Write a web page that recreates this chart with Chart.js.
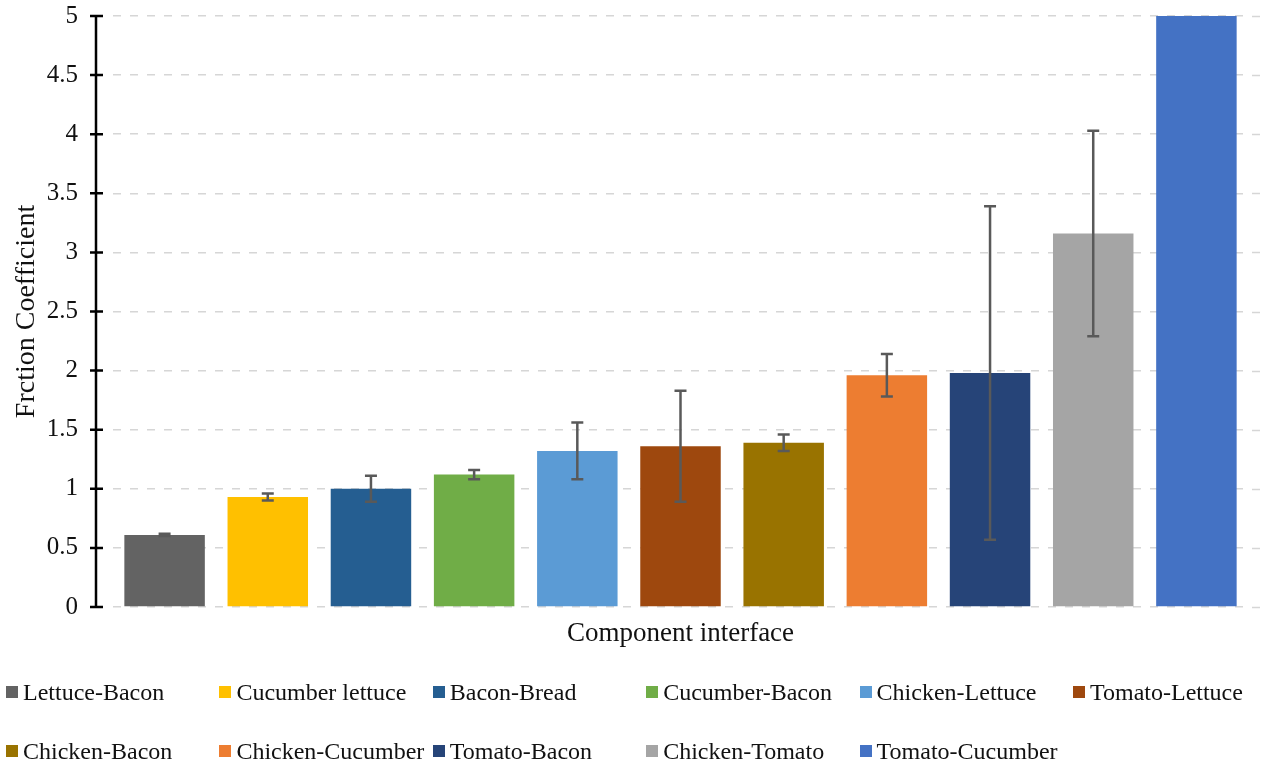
<!DOCTYPE html>
<html>
<head>
<meta charset="utf-8">
<script src="https://cdn.jsdelivr.net/npm/chart.js@4.4.1/dist/chart.umd.min.js"></script>
<style>
  body { margin: 0; background: #fff; }
  #wrap { position: relative; width: 1268px; height: 763px; }
  #legend { position: absolute; left: 0; top: 0; width: 1268px; height: 763px; pointer-events: none;
    font-family: "Liberation Serif", "Times New Roman", serif; font-size: 24px; color: #111; }
  .item { position: absolute; display: flex; align-items: center; white-space: nowrap; }
  .box { width: 12px; height: 12px; margin-right: 5px; }
</style>
</head>
<body>
<div id="wrap">
  <canvas id="chart" width="1268" height="763"></canvas>
  <div id="legend"></div>
</div>
<script>
// interface pairs, mean friction coefficient and error (+/-)
const interfaces = ['Lettuce-Bacon', 'Cucumber lettuce', 'Bacon-Bread', 'Cucumber-Bacon', 'Chicken-Lettuce',
  'Tomato-Lettuce', 'Chicken-Bacon', 'Chicken-Cucumber', 'Tomato-Bacon', 'Chicken-Tomato', 'Tomato-Cucumber'];
const means = [0.61, 0.93, 1.00, 1.12, 1.32, 1.36, 1.39, 1.96, 1.98, 3.16, 5.0];
const errors = [0.01, 0.03, 0.11, 0.04, 0.24, 0.47, 0.07, 0.18, 1.41, 0.87, 0];
const colors = ['#636363', '#FFC000', '#255E91', '#70AD47', '#5B9BD5',
  '#9E480E', '#997300', '#ED7D31', '#264478', '#A5A5A5', '#4472C4'];
const yTicks = [0, 0.5, 1, 1.5, 2, 2.5, 3, 3.5, 4, 4.5, 5];

const serif = '"Liberation Serif", "Times New Roman", serif';
const gridColor = '#d6d6d6';

const datasets = interfaces.map((name, i) => ({
  label: name,
  data: interfaces.map((_, j) => (j === i ? means[i] : null)),
  err: errors[i],
  backgroundColor: colors[i],
  borderWidth: 0
}));

const extras = {
  id: 'extras',
  // gridlines run a little past the last bar
  beforeDatasetsDraw(chart) {
    const ctx = chart.ctx;
    const y = chart.scales.y;
    const area = chart.chartArea;
    ctx.save();
    ctx.strokeStyle = gridColor;
    ctx.lineWidth = 1.5;
    ctx.setLineDash([8, 9]);
    ctx.beginPath();
    yTicks.forEach(t => {
      const py = Math.round(y.getPixelForValue(t)) + 0.5;
      ctx.moveTo(area.right + 4, py); ctx.lineTo(area.right + 18, py);
    });
    ctx.stroke();
    ctx.restore();
  },
  // error bars, then the y axis line a bit left of the plot with crossing ticks
  afterDatasetsDraw(chart) {
    const ctx = chart.ctx;
    const y = chart.scales.y;
    const area = chart.chartArea;

    ctx.save();
    ctx.strokeStyle = '#595959';
    ctx.lineWidth = 2.5;
    chart.data.datasets.forEach((ds, i) => {
      if (!ds.err) return;
      const bar = chart.getDatasetMeta(i).data[i];
      const v = ds.data[i];
      const top = y.getPixelForValue(v + ds.err);
      const bot = y.getPixelForValue(v - ds.err);
      ctx.beginPath();
      ctx.moveTo(bar.x, top); ctx.lineTo(bar.x, bot);
      ctx.moveTo(bar.x - 6, top); ctx.lineTo(bar.x + 6, top);
      ctx.moveTo(bar.x - 6, bot); ctx.lineTo(bar.x + 6, bot);
      ctx.stroke();
    });

    const ax = area.left - 17;
    ctx.strokeStyle = '#000';
    ctx.lineWidth = 2.5;
    ctx.beginPath();
    ctx.moveTo(ax, y.getPixelForValue(yTicks[yTicks.length - 1]));
    ctx.lineTo(ax, y.getPixelForValue(yTicks[0]));
    yTicks.forEach(t => {
      const py = y.getPixelForValue(t);
      ctx.moveTo(ax - 6, py); ctx.lineTo(ax + 7, py);
    });
    ctx.stroke();
    ctx.restore();
  }
};

new Chart(document.getElementById('chart'), {
  type: 'bar',
  data: { labels: interfaces, datasets: datasets },
  plugins: [extras],
  options: {
    responsive: false,
    animation: false,
    layout: { padding: { left: 10, right: 20, top: 1, bottom: 113 } },
    datasets: { bar: { grouped: false, categoryPercentage: 0.78, barPercentage: 1 } },
    plugins: { legend: { display: false }, tooltip: { enabled: false } },
    scales: {
      x: {
        afterFit: s => { s.height = 43; },
        grid: { display: false, drawTicks: false },
        border: { display: false },
        ticks: { display: false },
        title: { display: true, text: 'Component interface', color: '#111',
          font: { family: serif, size: 27 }, padding: { top: 11, bottom: 0 } }
      },
      y: {
        min: 0, max: 5,
        afterFit: s => { s.width = 103; },
        afterBuildTicks: axis => { axis.ticks = yTicks.map(v => ({ value: v })); },
        ticks: { color: '#111', font: { family: serif, size: 25 }, padding: 1,
          callback: v => String(v) },
        // invisible tick marks just push the labels away from the plot
        grid: { color: gridColor, lineWidth: 1.5, drawTicks: true, tickLength: 34,
          tickColor: 'rgba(0,0,0,0)' },
        border: { display: false, dash: [8, 9] },
        title: { display: true, text: 'Frction Coefficient', color: '#111',
          font: { family: serif, size: 28 }, padding: { top: 0, bottom: 8 } }
      }
    }
  }
});

// legend laid out in fixed columns like the original
const legend = document.getElementById('legend');
interfaces.forEach((name, i) => {
  const col = i % 6, row = Math.floor(i / 6);
  const el = document.createElement('div');
  el.className = 'item';
  el.style.left = (6 + col * 213.4) + 'px';
  el.style.top = (row === 0 ? 692 : 751) - 15 + 'px';
  el.style.height = '30px';
  el.innerHTML = '<span class="box" style="background:' + colors[i] + '"></span>' + name;
  legend.appendChild(el);
});
</script>
</body>
</html>
